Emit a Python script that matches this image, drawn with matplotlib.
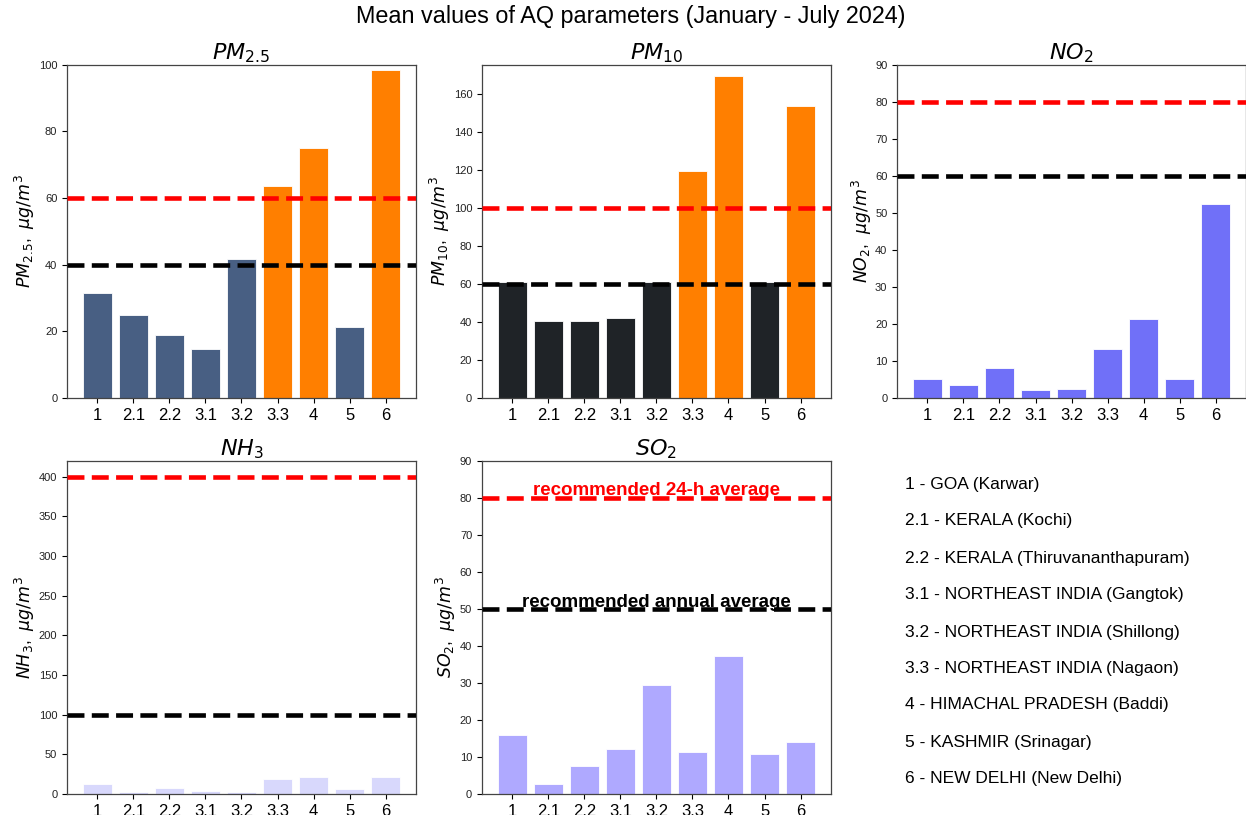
import matplotlib
matplotlib.use("Agg")
import matplotlib.pyplot as plt

plt.rcParams['font.family'] = ['Liberation Sans', 'DejaVu Sans']

sites = ["1", "2.1", "2.2", "3.1", "3.2", "3.3", "4", "5", "6"]
site_names = ["1 - GOA (Karwar)", "2.1 - KERALA (Kochi)", "2.2 - KERALA (Thiruvananthapuram)",
              "3.1 - NORTHEAST INDIA (Gangtok)", "3.2 - NORTHEAST INDIA (Shillong)",
              "3.3 - NORTHEAST INDIA (Nagaon)", "4 - HIMACHAL PRADESH (Baddi)",
              "5 - KASHMIR (Srinagar)", "6 - NEW DELHI (New Delhi)"]

pm25 = [31.4, 24.9, 18.9, 14.6, 41.7, 63.5, 74.9, 21.4, 98.5]
pm10 = [61.0, 40.7, 40.7, 42.0, 61.0, 119.5, 169.4, 61.0, 153.8]
no2 = [5.1, 3.5, 8.0, 2.2, 2.3, 13.3, 21.4, 5.1, 52.3]
nh3 = [12.0, 2.7, 7.0, 4.0, 2.7, 18.3, 20.8, 5.7, 21.7]
so2 = [16.0, 2.6, 7.6, 12.2, 29.4, 11.4, 37.3, 10.8, 13.9]

# (24-h limit, annual limit)
lim_pm25 = (60, 40)
lim_pm10 = (100, 60)
lim_no2 = (80, 60)
lim_nh3 = (400, 100)
lim_so2 = (80, 50)

NAVY = '#485f83'
ORANGE = '#ff7f00'
DARK = '#1f2327'


def colors_exceed(vals, base, limit):
    return [ORANGE if v > limit else base for v in vals]


fig = plt.figure(figsize=(12.46, 8.15), dpi=100)
W, H = 0.280, 0.409
lefts = [0.0538, 0.3868, 0.7200]
b_top, b_bot = 0.5117, 0.0258

panels = [
    (lefts[0], b_top, pm25, colors_exceed(pm25, NAVY, lim_pm25[0]), lim_pm25, r'$PM_{2.5}$', (0, 100)),
    (lefts[1], b_top, pm10, colors_exceed(pm10, DARK, lim_pm10[0]), lim_pm10, r'$PM_{10}$', (0, 175.4)),
    (lefts[2], b_top, no2, ['#7070f8'] * 9, lim_no2, r'$NO_{2}$', (0, 90)),
    (lefts[0], b_bot, nh3, ['#d8d8fc'] * 9, lim_nh3, r'$NH_{3}$', (0, 420)),
    (lefts[1], b_bot, so2, ['#afa9ff'] * 9, lim_so2, r'$SO_{2}$', (0, 90)),
]

axes = []
for (l, b, vals, cols, lims, name, ylim) in panels:
    ax = fig.add_axes([l, b, W, H])
    ax.bar(sites, vals, color=cols, width=0.8, edgecolor='white', linewidth=0.6)
    ax.axhline(lims[0], color='red', linestyle='--', linewidth=3.3, zorder=3)
    ax.axhline(lims[1], color='black', linestyle='--', linewidth=3.3, zorder=3)
    ax.set_ylim(*ylim)
    ax.set_title(name, fontsize=16, pad=4)
    ax.set_ylabel(name + r',  $\mu g/m^3$', fontsize=12.5, labelpad=1)
    ax.tick_params(axis='x', labelsize=12, length=3.5)
    ax.tick_params(axis='y', labelsize=8, length=3.5, labelcolor='#222222')
    for s in ax.spines.values():
        s.set_color('#444444')
        s.set_linewidth(0.9)
    axes.append(ax)

ax_so2 = axes[4]
ax_so2.text(4, lim_so2[0] + 0.6, 'recommended 24-h average', color='red', fontsize=13.5,
            fontweight='bold', ha='center', va='baseline', zorder=4)
ax_so2.text(4, lim_so2[1] + 0.6, 'recommended annual average', color='black', fontsize=13.5,
            fontweight='bold', ha='center', va='baseline', zorder=4)

ys = [485, 521, 558, 595, 632, 668, 705, 742, 778]
for name, y in zip(site_names, ys):
    fig.text(905 / 1246, 1 - y / 815, name, fontsize=12.5, ha='left', va='center')

fig.text(631 / 1246, 1 - 17 / 815, 'Mean values of AQ parameters (January - July 2024)',
         fontsize=16.8, ha='center', va='center')

fig.savefig('out.png', dpi=100)
